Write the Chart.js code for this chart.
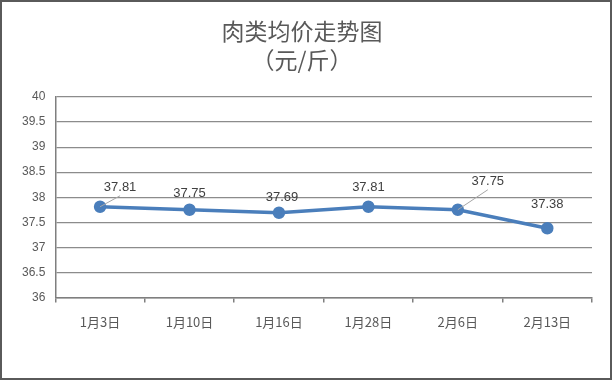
<!DOCTYPE html>
<html>
<head>
<meta charset="utf-8">
<script src="https://cdn.jsdelivr.net/npm/chart.js@4"></script>
<style>
  html, body { margin: 0; padding: 0; background: #fff; }
  #wrap { width: 612px; height: 380px; }
</style>
</head>
<body>
<div id="wrap"><canvas id="grafico" width="612" height="380"></canvas></div>
<script>
const datas = ["1月3日", "1月10日", "1月16日", "1月28日", "2月6日", "2月13日"];
const precos = [37.81, 37.75, 37.69, 37.81, 37.75, 37.38];
const titulo = ["肉类均价走势图", "（元/斤）"];

// deslocamento dos rotulos em relacao ao ponto (px) e se tem linha guia
const desloc = [[20, -19, true], [0, -16, false], [3, -15, false], [0, -19, false], [30, -28, true], [0, -24, false]];

const moldura = {
    id: "moldura",
    afterDraw(chart) {
        const ctx = chart.ctx;
        ctx.save();
        ctx.strokeStyle = "#5a5a5a";
        ctx.lineWidth = 2;
        ctx.strokeRect(1, 1, chart.width - 2, chart.height - 2);
        ctx.restore();
    }
};

const rotulos = {
    id: "rotulos",
    afterDatasetsDraw(chart) {
        const ctx = chart.ctx;
        const meta = chart.getDatasetMeta(0);
        ctx.save();
        ctx.font = "13px 'Liberation Sans', Arial, sans-serif";
        ctx.textAlign = "center";
        ctx.textBaseline = "middle";
        meta.data.forEach((pt, i) => {
            const [dx, dy, guia] = desloc[i];
            const lx = pt.x + dx, ly = pt.y + dy;
            if (guia) {
                ctx.strokeStyle = "#a6a6a6";
                ctx.lineWidth = 1;
                ctx.beginPath();
                ctx.moveTo(pt.x, pt.y);
                ctx.lineTo(lx, ly + 8);
                ctx.stroke();
            }
            ctx.fillStyle = "#404040";
            ctx.fillText(precos[i].toFixed(2), lx, ly);
        });
        ctx.restore();
    }
};

new Chart(document.getElementById("grafico"), {
    type: "line",
    data: {
        labels: datas,
        datasets: [{
            data: precos,
            borderColor: "#4a7ebb",
            backgroundColor: "#4a7ebb",
            borderWidth: 3.5,
            pointRadius: 4.5,
            pointHoverRadius: 4.5,
            tension: 0
        }]
    },
    options: {
        responsive: false,
        animation: false,
        layout: { padding: { left: 12, right: 20, top: 17, bottom: 38 } },
        plugins: {
            legend: { display: false },
            tooltip: { enabled: false },
            title: {
                display: true,
                text: titulo,
                color: "#595959",
                font: { size: 23, family: "'Noto Sans CJK SC', sans-serif", weight: "normal", lineHeight: 1.24 },
                padding: { top: 0, bottom: 23 }
            }
        },
        scales: {
            x: {
                offset: true,
                grid: { display: true, drawOnChartArea: false, offset: true, color: "#7f7f7f", tickLength: 5, lineWidth: 1.5 },
                border: { color: "#7f7f7f", width: 1.5 },
                ticks: { color: "#595959", font: { size: 13, family: "'Noto Sans CJK SC', sans-serif" }, padding: 12, maxRotation: 0 }
            },
            y: {
                min: 36,
                max: 40,
                ticks: { stepSize: 0.5, color: "#595959", font: { size: 12, family: "'Liberation Sans', Arial, sans-serif" }, padding: 10, callback: v => String(v) },
                grid: { color: "#8c8c8c", drawTicks: false, lineWidth: 1.2 },
                border: { color: "#7f7f7f", width: 1.5 }
            }
        }
    },
    plugins: [moldura, rotulos]
});
</script>
</body>
</html>
